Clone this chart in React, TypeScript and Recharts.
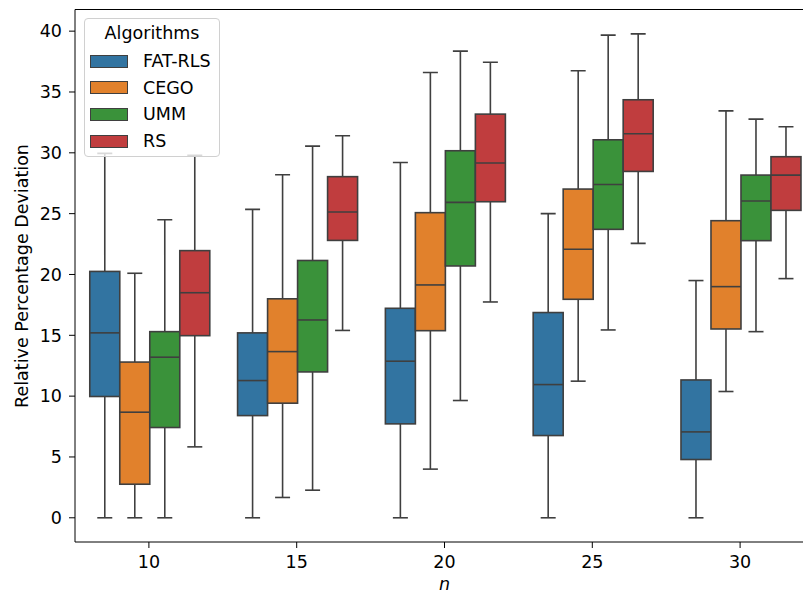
import { ComposedChart, Bar, XAxis, YAxis, Legend, Label, ReferenceLine } from 'recharts';

// box stats per n: [lower whisker, q1, median, q3, upper whisker]
const nValues = ['10', '15', '20', '25', '30'];

const fatRls = [
  [0, 9.97, 15.2, 20.25, 29.95],
  [0, 8.4, 11.28, 15.2, 25.35],
  [0, 7.72, 12.87, 17.22, 29.2],
  [0, 6.76, 10.95, 16.87, 25.0],
  [0, 4.79, 7.06, 11.33, 19.5],
];
const cego = [
  [0, 2.76, 8.68, 12.8, 20.1],
  [1.67, 9.42, 13.66, 18.0, 28.2],
  [4.0, 15.38, 19.14, 25.08, 36.6],
  [11.23, 17.96, 22.07, 27.02, 36.74],
  [10.38, 15.52, 19.0, 24.42, 33.45],
];
const umm = [
  [0, 7.42, 13.2, 15.3, 24.5],
  [2.27, 11.99, 16.26, 21.15, 30.55],
  [9.64, 20.7, 25.93, 30.17, 38.36],
  [15.44, 23.71, 27.4, 31.07, 39.67],
  [15.3, 22.78, 26.04, 28.17, 32.77],
];
const rs = [
  [5.83, 14.97, 18.5, 21.96, 29.8],
  [15.4, 22.8, 25.13, 28.04, 31.4],
  [17.74, 25.98, 29.16, 33.18, 37.45],
  [22.56, 28.47, 31.57, 34.36, 39.78],
  [19.66, 25.27, 28.17, 29.68, 32.14],
];

const algorithms = ['FAT-RLS', 'CEGO', 'UMM', 'RS'];
const colors = ['#3274a1', '#e1812c', '#3a923a', '#c03d3e'];
const yTicks = [0, 5, 10, 15, 20, 25, 30, 35, 40];
const yDomain = [-1.99, 41.78];

const allStats = [fatRls, cego, umm, rs];
const data = nValues.map((n, i) => {
  const row: any = { n };
  algorithms.forEach((a, j) => {
    row[a] = allStats[j][i];
  });
  return row;
});

const FONT = 'DejaVu Sans, sans-serif';
const LINE = '#3f3f3f';

const BoxShape = (props: any) => {
  const { x, y, width, height, payload, fill, name } = props;
  const s: number[] = payload[name];
  const lo = s[0];
  const hi = s[4];
  const py = (v: number) => y + (height * (hi - v)) / (hi - lo);
  const cx = x + width / 2;
  const cap = width / 2;
  return (
    <g>
      <line x1={cx} x2={cx} y1={py(hi)} y2={py(s[3])} stroke={LINE} strokeWidth={1.6} />
      <line x1={cx} x2={cx} y1={py(s[1])} y2={py(lo)} stroke={LINE} strokeWidth={1.6} />
      <line x1={cx - cap / 2} x2={cx + cap / 2} y1={py(hi)} y2={py(hi)} stroke={LINE} strokeWidth={1.6} />
      <line x1={cx - cap / 2} x2={cx + cap / 2} y1={py(lo)} y2={py(lo)} stroke={LINE} strokeWidth={1.6} />
      <rect x={x} y={py(s[3])} width={width} height={py(s[1]) - py(s[3])} fill={fill} stroke={LINE} strokeWidth={1.6} />
      <line x1={x} x2={x + width} y1={py(s[2])} y2={py(s[2])} stroke={LINE} strokeWidth={1.6} />
    </g>
  );
};

const LegendBox = () => (
  <div
    style={{
      fontFamily: FONT,
      fontSize: 17.5,
      color: '#000',
      background: 'rgba(255,255,255,0.8)',
      border: '1px solid #d0d0d0',
      borderRadius: 4,
      width: 136,
      height: 139,
      boxSizing: 'border-box',
      position: 'relative',
    }}
  >
    <div style={{ position: 'absolute', top: 4, left: 0, width: '100%', textAlign: 'center' }}>Algorithms</div>
    {algorithms.map((a, i) => (
      <div key={a} style={{ position: 'absolute', left: 5, top: 31 + i * 26.7, display: 'flex', alignItems: 'center', height: 22 }}>
        <div style={{ width: 38, height: 13, background: colors[i], border: `1.5px solid ${LINE}`, boxSizing: 'border-box' }} />
        <span style={{ marginLeft: 15 }}>{a}</span>
      </div>
    ))}
  </div>
);

export default function App() {
  return (
    <div style={{ position: 'absolute', left: 0, top: 0, width: 803, height: 596, overflow: 'hidden', background: '#fff' }}>
      <ComposedChart
        width={814}
        height={596}
        data={data}
        margin={{ top: 9.5, right: 0, bottom: 0, left: 0 }}
        barCategoryGap="10%"
        barGap={0}
      >
        <XAxis
          dataKey="n"
          height={54}
          tickSize={6}
          tickMargin={8}
          stroke="#000"
          tick={{ fill: '#000', fontSize: 17.5, fontFamily: FONT }}
        >
          <Label
            content={() => (
              <text x={444.5} y={590} textAnchor="middle" fontSize={17.5} fontStyle="italic" fontFamily={FONT} fill="#000">
                n
              </text>
            )}
          />
        </XAxis>
        <YAxis
          type="number"
          domain={yDomain}
          ticks={yTicks}
          width={75}
          tickSize={6}
          tickMargin={7}
          stroke="#000"
          allowDataOverflow
          tick={{ fill: '#000', fontSize: 17.5, fontFamily: FONT }}
        >
          <Label
            content={() => (
              <text
                x={22}
                y={276}
                transform="rotate(-90 22 276)"
                textAnchor="middle"
                dominantBaseline="central"
                fontSize={17.5}
                fontFamily={FONT}
                fill="#000"
              >
                Relative Percentage Deviation
              </text>
            )}
          />
        </YAxis>
        <ReferenceLine y={yDomain[1]} stroke="#000" strokeWidth={1.2} ifOverflow="visible" />
        <Legend
          layout="horizontal"
          verticalAlign="middle"
          align="center"
          content={() => <LegendBox />}
          wrapperStyle={{ left: 84, top: 18, width: 136, height: 139 }}
        />
        {algorithms.map((a, i) => (
          <Bar
            key={a}
            name={a}
            dataKey={(row: any) => [row[a][0], row[a][4]]}
            fill={colors[i]}
            isAnimationActive={false}
            shape={(p: any) => <BoxShape {...p} name={a} fill={colors[i]} />}
          />
        ))}
      </ComposedChart>
    </div>
  );
}
